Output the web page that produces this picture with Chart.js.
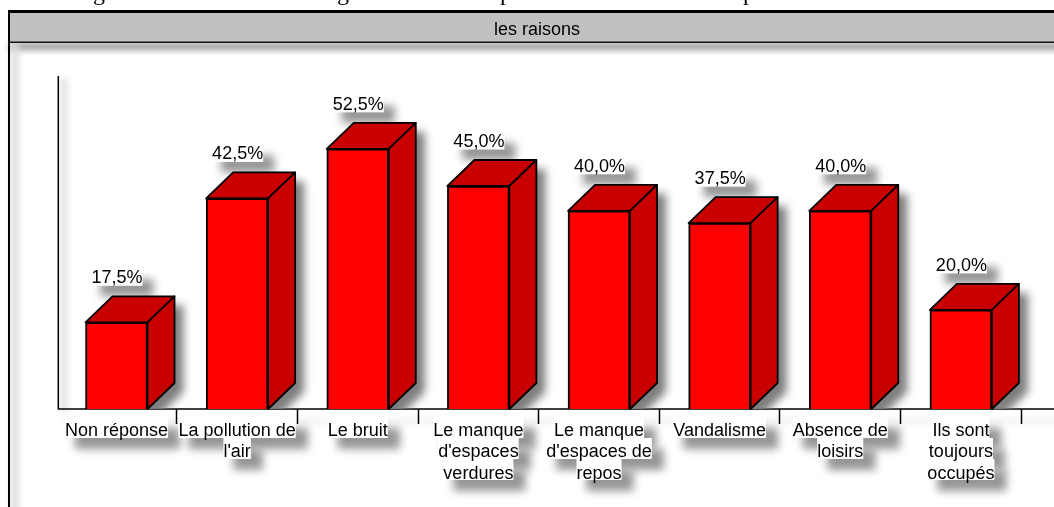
<!DOCTYPE html>
<html>
<head>
<meta charset="utf-8">
<style>html,body{margin:0;padding:0;background:#fff;overflow:hidden}canvas{display:block}</style>
<script src="https://cdn.jsdelivr.net/npm/chart.js@4"></script>
</head>
<body>
<canvas id="c" width="1054" height="507"></canvas>
<script>
const categories = [
  ["Non réponse"],
  ["La pollution de", "l'air"],
  ["Le bruit"],
  ["Le manque", "d'espaces", "verdures"],
  ["Le manque", "d'espaces de", "repos"],
  ["Vandalisme"],
  ["Absence de", "loisirs"],
  ["Ils sont", "toujours", "occupés"]
];
const values = [17.5, 42.5, 52.5, 45.0, 40.0, 37.5, 40.0, 20.0];
const valueLabels = ["17,5%", "42,5%", "52,5%", "45,0%", "40,0%", "37,5%", "40,0%", "20,0%"];
const chartTitle = "les raisons";
const clippedTitleGlyphs = [["g", 93], ["g", 337], ["p", 500], ["p", 743]];

const FONT = '18px "Liberation Sans", Arial, sans-serif';
const DEPTH_X = 27, DEPTH_Y = 26;

function softRect(ctx, x, y, w, h, blur, color) {
  ctx.save();
  ctx.filter = 'blur(' + blur + 'px)';
  ctx.fillStyle = color || '#969696';
  ctx.fillRect(x, y, w, h);
  ctx.restore();
}

const framePlugin = {
  id: 'frame',
  beforeDraw(chart) {
    const { ctx, width, height, chartArea: a, scales: { x } } = chart;
    ctx.save();
    ctx.fillStyle = '#fff';
    ctx.fillRect(0, 0, width, height);

    // glyph bottoms of the cropped caption above the frame
    ctx.fillStyle = '#000';
    ctx.font = '24px "Liberation Serif", serif';
    ctx.textBaseline = 'alphabetic';
    ctx.textAlign = 'left';
    clippedTitleGlyphs.forEach(g => ctx.fillText(g[0], g[1], 0));

    // soft shadows of the frame and the axes
    softRect(ctx, 10, 43, width, 7, 3, '#969696');
    softRect(ctx, 11, 43, 8, height, 3, '#dedede');
    softRect(ctx, a.left + 5, a.top + 2, 6, a.bottom - a.top, 3, '#dcdcdc');
    softRect(ctx, a.left + 8, a.bottom + 10, width, 4, 3, '#ececec');

    // header band and frame
    ctx.fillStyle = '#c0c0c0';
    ctx.fillRect(10, 13, width, 29);
    ctx.fillStyle = '#000';
    ctx.fillRect(8, 10, width, 3);
    ctx.fillRect(8, 10, 2, height);
    ctx.fillStyle = '#111';
    ctx.fillRect(10, 41.5, width, 1.5);

    // label shadows then per-line white backing
    ctx.font = FONT;
    const lineH = 21, lineTop = a.bottom + 8;
    const rows = [];
    x.ticks.forEach((t, i) => {
      const cx = x.getPixelForTick(i);
      categories[i].forEach((line, j) => {
        const w = ctx.measureText(line).width;
        rows.push([cx - w / 2, lineTop + j * lineH, w, lineH]);
      });
    });
    rows.forEach(r => softRect(ctx, r[0] + 10, r[1] + 11, r[2] + 2, r[3], 4));
    ctx.fillStyle = '#fff';
    rows.forEach(r => ctx.fillRect(r[0], r[1], r[2], r[3]));
    ctx.restore();
  },
  beforeDatasetsDraw(chart) {
    const { ctx, width, chartArea: a } = chart;
    const meta = chart.getDatasetMeta(0);
    ctx.save();
    // y axis line and the baseline running on to the page edge
    ctx.strokeStyle = '#000';
    ctx.lineWidth = 1.5;
    ctx.beginPath();
    ctx.moveTo(a.left + 2.1, a.top);
    ctx.lineTo(a.left + 2.1, a.bottom);
    ctx.moveTo(a.left + 1.4, a.bottom);
    ctx.lineTo(width, a.bottom);
    ctx.stroke();

    // value label shadows sit behind the blocks
    ctx.font = FONT;
    meta.data.forEach((b, i) => {
      const w = ctx.measureText(valueLabels[i]).width;
      softRect(ctx, b.x + 0.5 - w / 2 + 9, b.y - 45 - 8 + 10, w + 2, 17, 4);
    });

    // 3D block shadows, clipped at the baseline
    ctx.save();
    ctx.beginPath();
    ctx.rect(0, 0, width, a.bottom);
    ctx.clip();
    meta.data.forEach(b => {
      const l = b.x - b.width / 2, r = b.x + b.width / 2;
      ctx.save();
      ctx.filter = 'blur(4px)';
      ctx.fillStyle = '#7e7e7e';
      ctx.beginPath();
      ctx.moveTo(l + DEPTH_X + 9, b.y - DEPTH_Y + 9);
      ctx.lineTo(r + DEPTH_X + 9, b.y - DEPTH_Y + 9);
      ctx.lineTo(r + DEPTH_X + 9, b.base - DEPTH_Y + 9);
      ctx.lineTo(r + 9, b.base + 9);
      ctx.lineTo(l + 9, b.base + 9);
      ctx.closePath();
      ctx.fill();
      ctx.restore();
    });
    ctx.restore();

    // top and side faces
    ctx.fillStyle = '#c80000';
    ctx.strokeStyle = '#000';
    ctx.lineWidth = 1.8;
    ctx.lineJoin = 'round';
    meta.data.forEach(b => {
      const l = b.x - b.width / 2, r = b.x + b.width / 2;
      ctx.beginPath();
      ctx.moveTo(l, b.y);
      ctx.lineTo(l + DEPTH_X, b.y - DEPTH_Y);
      ctx.lineTo(r + DEPTH_X, b.y - DEPTH_Y);
      ctx.lineTo(r, b.y);
      ctx.closePath();
      ctx.fill();
      ctx.stroke();
      ctx.beginPath();
      ctx.moveTo(r, b.y);
      ctx.lineTo(r + DEPTH_X, b.y - DEPTH_Y);
      ctx.lineTo(r + DEPTH_X, b.base - DEPTH_Y);
      ctx.lineTo(r, b.base);
      ctx.closePath();
      ctx.fill();
      ctx.stroke();
    });
    ctx.restore();
  },
  afterDatasetsDraw(chart) {
    const { ctx } = chart;
    const meta = chart.getDatasetMeta(0);
    ctx.save();
    ctx.font = FONT;
    ctx.textAlign = 'center';
    ctx.textBaseline = 'middle';
    meta.data.forEach((b, i) => {
      const text = valueLabels[i];
      const w = ctx.measureText(text).width;
      const cx = b.x + 0.5, cy = b.y - 45;
      ctx.fillStyle = '#fff';
      ctx.fillRect(cx - w / 2, cy - 8.5, w, 17);
      ctx.fillStyle = '#000';
      ctx.fillText(text, cx, cy + 1);
    });
    ctx.restore();
  }
};

new Chart(document.getElementById('c'), {
  type: 'bar',
  data: {
    labels: categories,
    datasets: [{
      data: values,
      backgroundColor: '#ff0000',
      borderColor: '#000',
      borderWidth: 2,
      barThickness: 62
    }]
  },
  plugins: [framePlugin],
  options: {
    responsive: false,
    animation: false,
    events: [],
    layout: { padding: { left: 52.8, right: 32.8, top: 13, bottom: 0 } },
    plugins: {
      legend: { display: false },
      tooltip: { enabled: false },
      title: {
        display: true,
        text: chartTitle,
        color: '#000',
        font: { family: '"Liberation Sans", Arial, sans-serif', size: 18, weight: 'normal', lineHeight: 1.2 },
        padding: { top: 6, bottom: 35.4 }
      }
    },
    scales: {
      x: {
        afterFit(s) { s.height = 98; },
        grid: {
          drawOnChartArea: false,
          drawTicks: true,
          tickLength: 15,
          tickWidth: 1.5,
          tickColor: c => c.index === 0 ? 'rgba(0,0,0,0)' : '#000'
        },
        border: { display: false },
        ticks: {
          color: '#000',
          maxRotation: 0,
          minRotation: 0,
          autoSkip: false,
          padding: -4,
          font: { family: '"Liberation Sans", Arial, sans-serif', size: 18, lineHeight: 1.19 }
        }
      },
      y: {
        min: 0,
        max: 67.2,
        afterFit(s) { s.width = 3.4; },
        grid: { display: false },
        border: { display: false },
        ticks: { display: false }
      }
    }
  }
});
</script>
</body>
</html>
